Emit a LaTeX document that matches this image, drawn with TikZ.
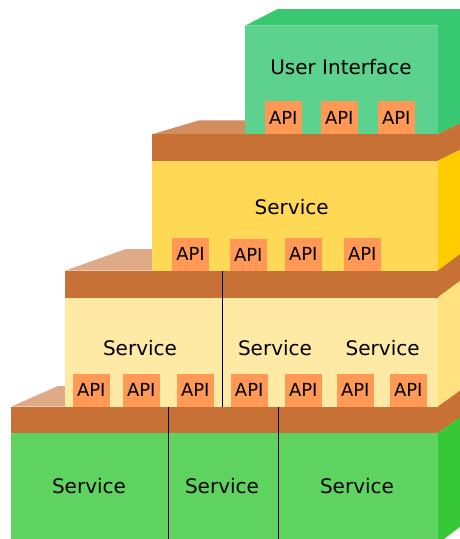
\documentclass[tikz,border=0pt]{standalone}
\usepackage{fontspec}
\setmainfont{DejaVu Sans}
\definecolor{uifront}{HTML}{5CD28E}
\definecolor{uiside}{HTML}{37C871}
\definecolor{slab}{HTML}{C87137}
\definecolor{slabtopA}{HTML}{D38D5F}
\definecolor{slabtopB}{HTML}{DEAA87}
\definecolor{yelfront}{HTML}{FFD955}
\definecolor{yelside}{HTML}{FFCC00}
\definecolor{ltfront}{HTML}{FFEAA5}
\definecolor{ltside}{HTML}{FFE27F}
\definecolor{grfront}{HTML}{5FD35F}
\definecolor{grside}{HTML}{37C837}
\definecolor{apicol}{HTML}{FF9955}
\begin{document}
\begin{tikzpicture}[x=1pt,y=-1pt,
  apibox/.style={fill=apicol, minimum width=36.7pt, minimum height=33pt, inner sep=0pt, font=\fontsize{18}{20}\selectfont},
  lbl/.style={anchor=base, inner sep=0pt, font=\fontsize{20}{24}\selectfont},
  divider/.style={black, line width=0.9pt}]
\clip (0,0) rectangle (460,539);
% ---- top faces
\fill[uiside] (245,25.7) -- (277.7,9) -- (471,9) -- (471,118) -- (437.7,134.3) -- (437.7,25.7) -- cycle;
\fill[slabtopA] (152,134.3) -- (199.3,120.3) -- (300,120.3) -- (300,134.3) -- cycle;
\fill[slabtopB] (65,270.7) -- (126,249) -- (300,249) -- (300,270.7) -- cycle;
\fill[slabtopB] (11,406.7) -- (58,386) -- (200,386) -- (200,406.7) -- cycle;
% ---- right sides
\fill[slab] (437.7,134.3) -- (471,117.6) -- (471,144.3) -- (437.7,161) -- cycle;
\fill[yelside] (437.7,161) -- (471,144.3) -- (471,300) -- (437.7,300) -- cycle;
\fill[slab] (437.7,270.7) -- (471,246) -- (471,272.8) -- (437.7,297.5) -- cycle;
\fill[ltside] (437.7,297.5) -- (471,272.8) -- (471,420) -- (437.7,420) -- cycle;
\fill[slab] (437.7,406.7) -- (471,382.7) -- (471,409.3) -- (437.7,433.3) -- cycle;
\fill[grside] (437.7,433.3) -- (471,409.3) -- (471,518.3) -- (437.7,543.9) -- cycle;
% ---- fronts
\fill[slab] (11,406.7) rectangle (437.7,433.3);
\fill[grfront] (11,433.3) rectangle (437.7,545);
\fill[slab] (65,270.7) rectangle (437.7,297.5);
\fill[ltfront] (65,297.5) rectangle (437.7,406.7);
\fill[slab] (152,134.3) rectangle (437.7,161);
\fill[yelfront] (152,161) rectangle (437.7,270.7);
\fill[uifront] (245,25.7) rectangle (437.7,134.3);
% ---- dividers
\coordinate (d1a) at (222.3,270.7); \coordinate (d1b) at (222.3,406.7);
\coordinate (d2a) at (168.3,406.7); \coordinate (d2b) at (168.3,545);
\coordinate (d3a) at (278.3,406.7); \coordinate (d3b) at (278.3,545);
\draw[divider] (d1a) -- (d1b);
\draw[divider] (d2a) -- (d2b);
\draw[divider] (d3a) -- (d3b);
% ---- labels
\node[lbl] (ui) at (341,74) {User Interface};
\node[lbl] (s2) at (291.7,214) {Service};
\node[lbl] (s3a) at (140,355) {Service};
\node[lbl] (s3b) at (275,355) {Service};
\node[lbl] (s3c) at (382.7,355) {Service};
\node[lbl] (s4a) at (89,493.3) {Service};
\node[lbl] (s4b) at (222,493.3) {Service};
\node[lbl] (s4c) at (357,493.3) {Service};
% ---- API boxes
\node[apibox] (a11) at (283.3,117.8) {API};
\node[apibox] (a12) at (339.3,117.8) {API};
\node[apibox] (a13) at (396.3,117.8) {API};
\node[apibox] (a21) at (190.5,254.2) {API};
\node[apibox, minimum height=31.7pt] (a22) at (248.3,254.85) {API};
\node[apibox] (a23) at (303.3,254.2) {API};
\node[apibox] (a24) at (362.3,254.2) {API};
\node[apibox] (a31) at (91.3,390.2) {API};
\node[apibox] (a32) at (141.3,390.2) {API};
\node[apibox] (a33) at (195.3,390.2) {API};
\node[apibox] (a34) at (249.2,390.2) {API};
\node[apibox] (a35) at (303.3,390.2) {API};
\node[apibox] (a36) at (355.3,390.2) {API};
\node[apibox] (a37) at (408.3,390.2) {API};
\end{tikzpicture}
\end{document}
